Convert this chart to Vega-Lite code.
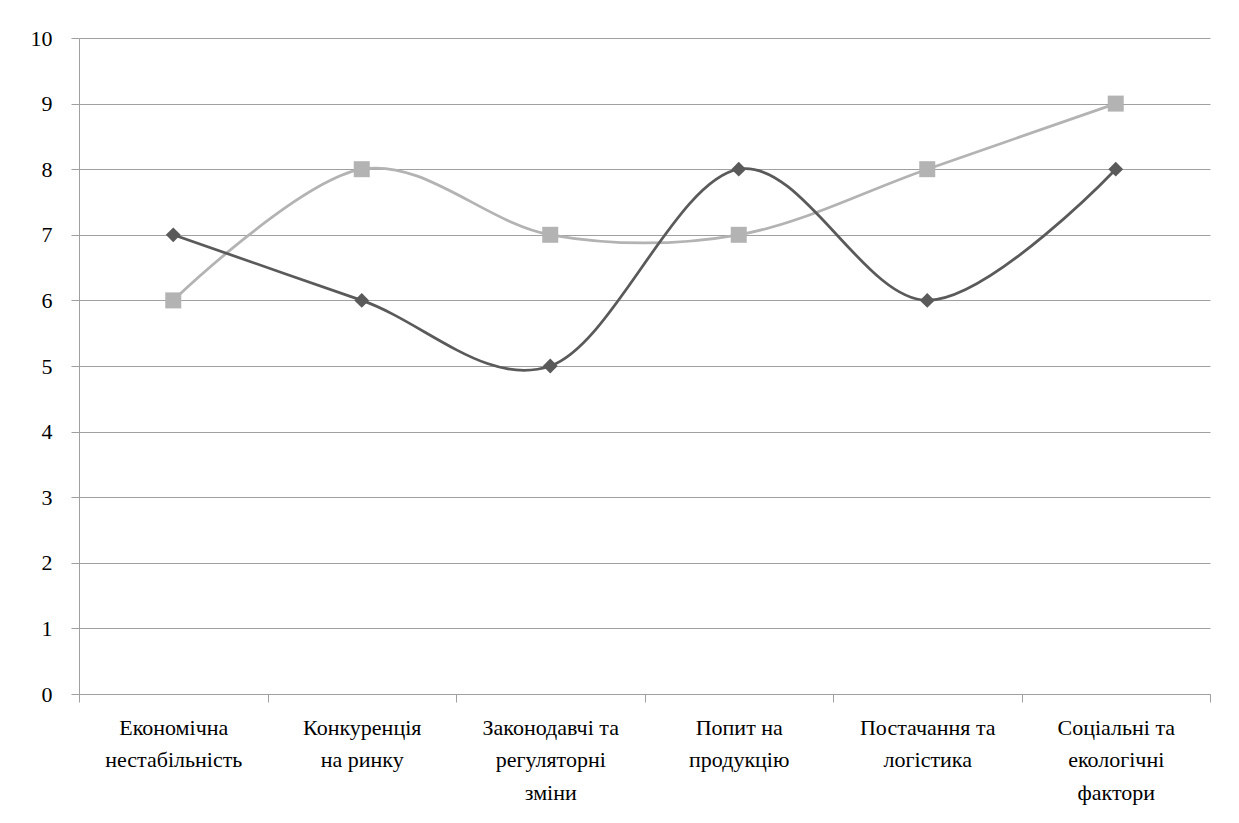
{
  "$schema": "https://vega.github.io/schema/vega-lite/v6.json",
  "autosize": {"type": "none"},
  "width": 1131,
  "height": 656,
  "padding": {"left": 79, "top": 38, "right": 29, "bottom": 129},
  "background": "white",
  "config": {
    "view": {"stroke": null},
    "font": "Liberation Serif",
    "axis": {"labelFont": "Liberation Serif", "labelFontSize": 22, "labelColor": "#000000"}
  },
  "data": {
    "values": [
      {"factor": "Економічна|нестабільність", "series": "Ряд 2", "value": 6},
      {"factor": "Конкуренція|на ринку", "series": "Ряд 2", "value": 8},
      {"factor": "Законодавчі та|регуляторні|зміни", "series": "Ряд 2", "value": 7},
      {"factor": "Попит на|продукцію", "series": "Ряд 2", "value": 7},
      {"factor": "Постачання та|логістика", "series": "Ряд 2", "value": 8},
      {"factor": "Соціальні та|екологічні|фактори", "series": "Ряд 2", "value": 9},
      {"factor": "Економічна|нестабільність", "series": "Ряд 1", "value": 7},
      {"factor": "Конкуренція|на ринку", "series": "Ряд 1", "value": 6},
      {"factor": "Законодавчі та|регуляторні|зміни", "series": "Ряд 1", "value": 5},
      {"factor": "Попит на|продукцію", "series": "Ряд 1", "value": 8},
      {"factor": "Постачання та|логістика", "series": "Ряд 1", "value": 6},
      {"factor": "Соціальні та|екологічні|фактори", "series": "Ряд 1", "value": 8}
    ]
  },
  "encoding": {
    "x": {
      "field": "factor", "type": "nominal", "sort": null, "title": null,
      "scale": {"paddingInner": 0, "paddingOuter": 0},
      "axis": {
        "labelAngle": 0, "labelExpr": "split(datum.label, '|')", "labelLineHeight": 32.5,
        "labelFont": "Liberation Serif", "labelFontSize": 22, "labelColor": "#000000",
        "labelPadding": 15, "tickBand": "extent", "tickSize": 8, "tickColor": "#a0a0a0",
        "domainColor": "#a0a0a0", "grid": false, "labelBaseline": "top", "labelLimit": 300
      }
    },
    "y": {
      "field": "value", "type": "quantitative", "title": null,
      "scale": {"domain": [0, 10], "nice": false},
      "axis": {
        "labelFont": "Liberation Serif", "labelFontSize": 22, "labelColor": "#000000",
        "values": [0, 1, 2, 3, 4, 5, 6, 7, 8, 9, 10], "format": "d", "grid": true, "gridColor": "#a0a0a0",
        "tickColor": "#a0a0a0", "domainColor": "#a0a0a0", "tickSize": 8, "labelPadding": 19
      }
    },
    "color": {
      "field": "series", "type": "nominal", "legend": null, "sort": ["Ряд 2", "Ряд 1"],
      "scale": {"domain": ["Ряд 2", "Ряд 1"], "range": ["#b3b3b3", "#5a5a5a"]}
    }
  },
  "layer": [
    {"mark": {"type": "line", "interpolate": "cardinal", "strokeWidth": 2.75}},
    {
      "mark": {"type": "point", "filled": true, "opacity": 1},
      "encoding": {
        "shape": {"field": "series", "type": "nominal", "legend": null,
          "scale": {"domain": ["Ряд 2", "Ряд 1"], "range": ["square", "diamond"]}},
        "size": {"field": "series", "type": "nominal", "legend": null,
          "scale": {"domain": ["Ряд 2", "Ряд 1"], "range": [256, 220]}}
      }
    }
  ]
}
